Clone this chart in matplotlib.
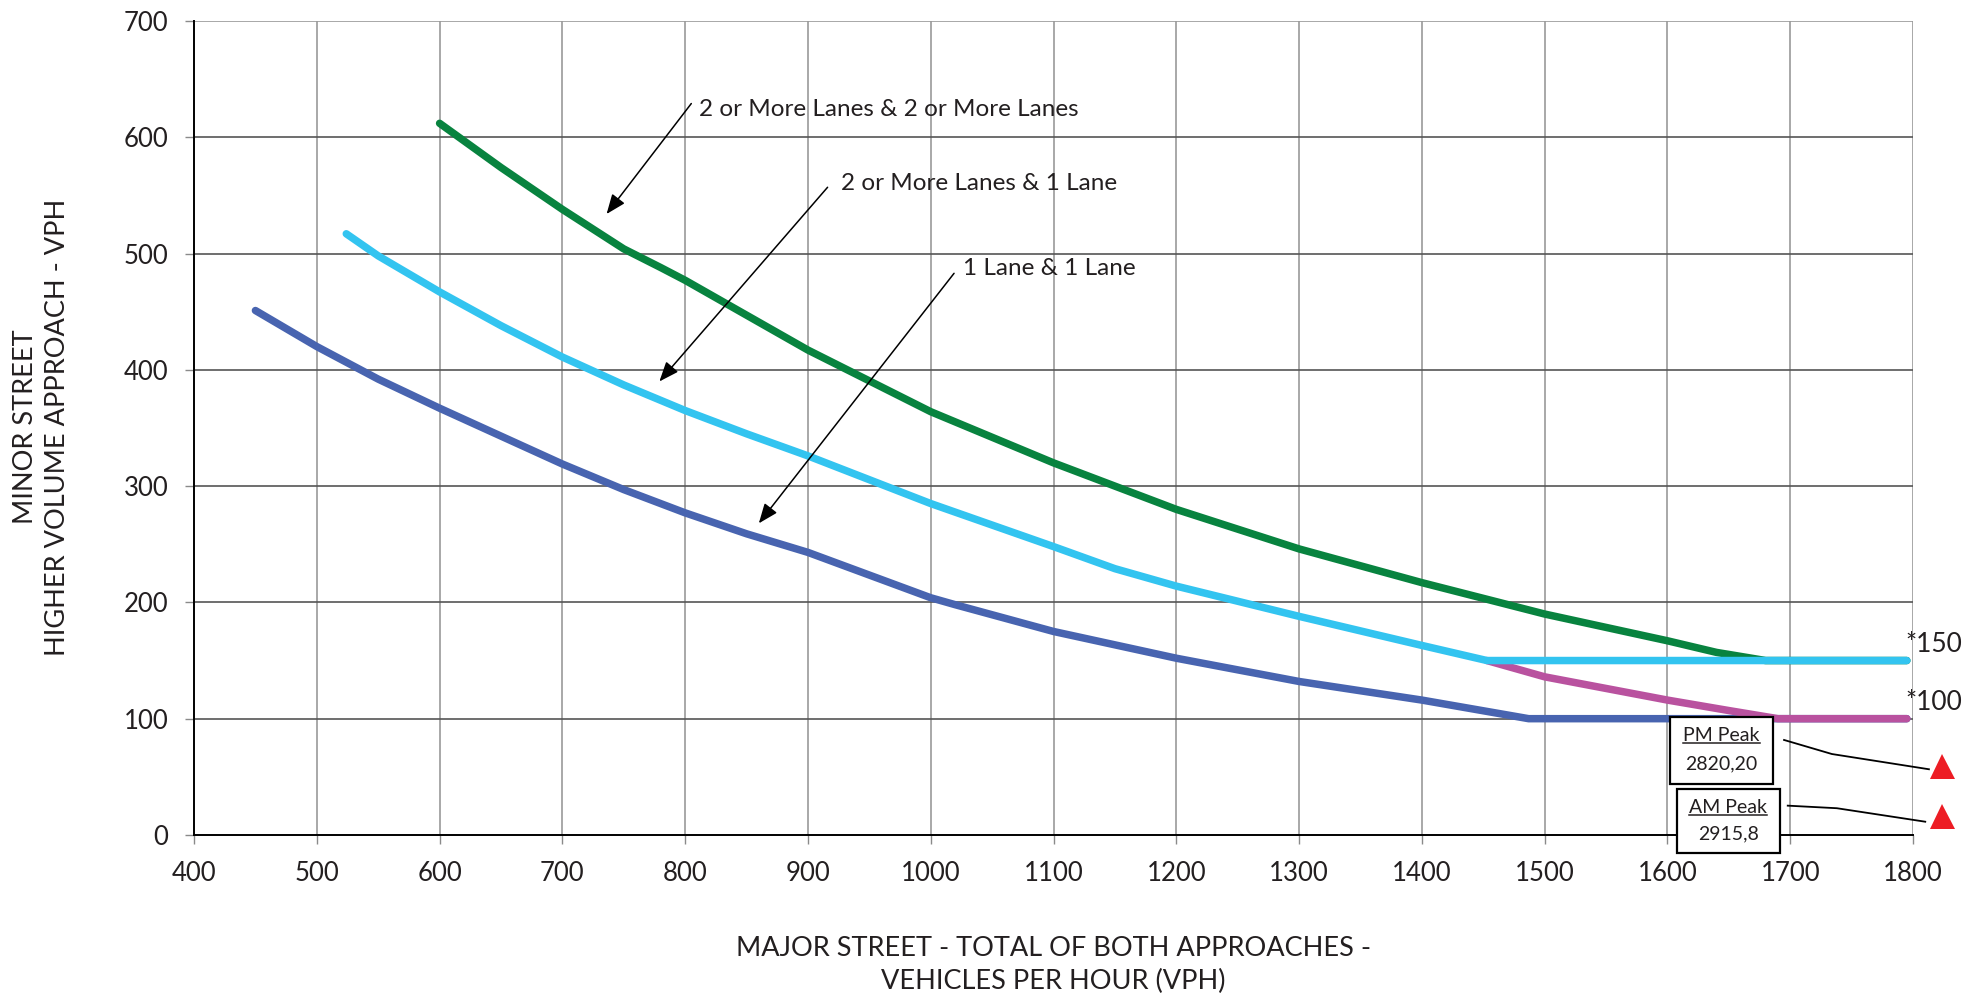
import matplotlib
matplotlib.use("Agg")
import matplotlib.pyplot as plt
from matplotlib.patches import Rectangle
from matplotlib.lines import Line2D

plt.rcParams['font.family'] = ['Lato', 'DejaVu Sans']

TEXT = '#231F20'

# Warrant curves: minor-street volume vs. major-street volume (VPH)
two_two_x = [600, 650, 700, 750, 780, 800, 850, 900, 1000, 1100, 1200, 1300, 1400, 1500, 1600, 1640, 1680, 1795]
two_two_y = [612, 574, 538, 504, 488, 477, 447, 417, 364, 320, 280, 246, 217, 190, 167, 157, 150, 150]

two_one_x = [524, 550, 600, 650, 700, 750, 800, 850, 900, 1000, 1100, 1150, 1200, 1300, 1400, 1453, 1795]
two_one_y = [517, 498, 467, 438, 411, 387, 365, 345, 326, 285, 248, 229, 214, 188, 163, 150, 150]

one_one_x = [450, 500, 550, 600, 650, 700, 750, 800, 850, 900, 1000, 1020, 1100, 1200, 1300, 1400, 1487, 1795]
one_one_y = [451, 420, 392, 367, 343, 319, 297, 277, 259, 243, 204, 198, 175, 152, 132, 116, 100, 100]

reduced_x = [1453, 1500, 1550, 1600, 1650, 1690, 1795]
reduced_y = [150, 136, 126, 116, 107, 100, 100]

curve_labels = ['2 or More Lanes & 2 or More Lanes', '2 or More Lanes & 1 Lane', '1 Lane & 1 Lane']
floor_labels = ['*150', '*100']
floor_values = [150, 100]

peak_names = ['PM Peak', 'AM Peak']
peak_major = [2820, 2915]
peak_minor = [20, 8]

x_ticks = list(range(400, 1801, 100))
y_ticks = list(range(0, 701, 100))

fig = plt.figure(figsize=(19.84, 9.99), dpi=100)
ax = fig.add_axes([0.0978, 0.1642, 0.8664, 0.8148])
ax.set_xlim(400, 1800)
ax.set_ylim(0, 700)

# grid: light vertical lines, darker horizontal lines
for xv in x_ticks[1:]:
    ax.axvline(xv, color='#9a9a9a', lw=1.2, zorder=0)
for yv in y_ticks[1:]:
    ax.axhline(yv, color='#555555' if yv < 700 else '#9a9a9a', lw=1.2, zorder=0)

for side in ('top', 'right'):
    ax.spines[side].set_visible(False)
for side in ('left', 'bottom'):
    ax.spines[side].set_color('black')
    ax.spines[side].set_linewidth(1.4)

ax.set_xticks(x_ticks)
ax.set_yticks(y_ticks)
ax.set_xticklabels([str(v) for v in x_ticks])
ax.set_yticklabels([str(v) for v in y_ticks])
ax.tick_params(axis='both', direction='out', length=6.5, width=1, color='#8a8a8a',
               labelsize=18.5, labelcolor=TEXT, pad=12)

lw = 5.4
ax.plot(one_one_x, one_one_y, color='#4864B0', lw=lw, solid_capstyle='round',
        solid_joinstyle='round', zorder=3)
ax.plot(reduced_x, reduced_y, color='#B9529F', lw=lw, solid_capstyle='round',
        solid_joinstyle='round', zorder=4)
ax.plot(two_two_x, two_two_y, color='#08833F', lw=lw, solid_capstyle='round',
        solid_joinstyle='round', zorder=5)
ax.plot(two_one_x, two_one_y, color='#33C4F0', lw=lw, solid_capstyle='round',
        solid_joinstyle='round', zorder=6)

# curve callouts
callouts = [((811, 624), (805, 629), (736, 534)),
            ((927, 560), (916, 557), (779, 390)),
            ((1026, 487), (1019, 483), (860, 268))]
for label, (txy, start, tip) in zip(curve_labels, callouts):
    ax.text(txy[0], txy[1], label, fontsize=17.5, color=TEXT, ha='left', va='center', zorder=8)
    ax.annotate('', xy=tip, xytext=start,
                arrowprops=dict(arrowstyle='-|>,head_length=0.8,head_width=0.32',
                                mutation_scale=15, color='black', lw=1.1,
                                shrinkA=0, shrinkB=0), zorder=8)

# floor values at the right end of the curves
for lab, val in zip(floor_labels, floor_values):
    ax.text(1794, val + 3, lab, fontsize=19, color=TEXT, ha='left', va='bottom',
            clip_on=False, zorder=8)

# peak-hour callout boxes, with leader lines to markers in the right margin
boxes = [(1602.5, 43.9, 83.1, 57.3), (1607.8, -15.7, 83.7, 55.0)]
leaders = [([1695, 1734, 1813], [81.7, 69.6, 56.5]),
           ([1698, 1738, 1810], [25.2, 23.0, 11.4])]
marker_y = [59, 16]
marker_x = 1824
texts_to_underline = []
for name, mj, mn, (bx, by, bw, bh), (lx, ly), my in zip(
        peak_names, peak_major, peak_minor, boxes, leaders, marker_y):
    ax.add_patch(Rectangle((bx, by), bw, bh, facecolor='white', edgecolor='black',
                           lw=1.6, clip_on=False, zorder=9))
    cx = bx + bw / 2
    t = ax.text(cx, by + bh * 0.72, name, fontsize=14, color=TEXT, ha='center',
                va='center', clip_on=False, zorder=10)
    texts_to_underline.append(t)
    ax.text(cx, by + bh * 0.30, f'{mj},{mn}', fontsize=14, color=TEXT, ha='center',
            va='center', clip_on=False, zorder=10)
    ax.plot(lx, ly, color='black', lw=1.3, clip_on=False, zorder=9)
    ax.plot([marker_x], [my], marker='^', markersize=18, color='#ED1C24',
            markeredgewidth=0, clip_on=False, zorder=10)

# axis titles
fig.text(0.0207, 1 - 427 / 999, 'MINOR STREET\nHIGHER VOLUME APPROACH - VPH',
         rotation=90, ha='center', va='center', multialignment='center',
         fontsize=19.5, color=TEXT, linespacing=1.35)
fig.text(0.531, 1 - 965 / 999, 'MAJOR STREET - TOTAL OF BOTH APPROACHES -\nVEHICLES PER HOUR (VPH)',
         ha='center', va='center', multialignment='center',
         fontsize=19.5, color=TEXT, linespacing=1.35)

# underline the peak names
fig.canvas.draw()
renderer = fig.canvas.get_renderer()
inv = fig.transFigure.inverted()
for t in texts_to_underline:
    bb = t.get_window_extent(renderer)
    (x0, y0), (x1, _) = inv.transform([(bb.x0, bb.y0 + 1), (bb.x1, bb.y0 + 1)])
    fig.add_artist(Line2D([x0, x1], [y0, y0], color=TEXT, lw=1.1, zorder=11))

fig.savefig('out.png', dpi=100)
